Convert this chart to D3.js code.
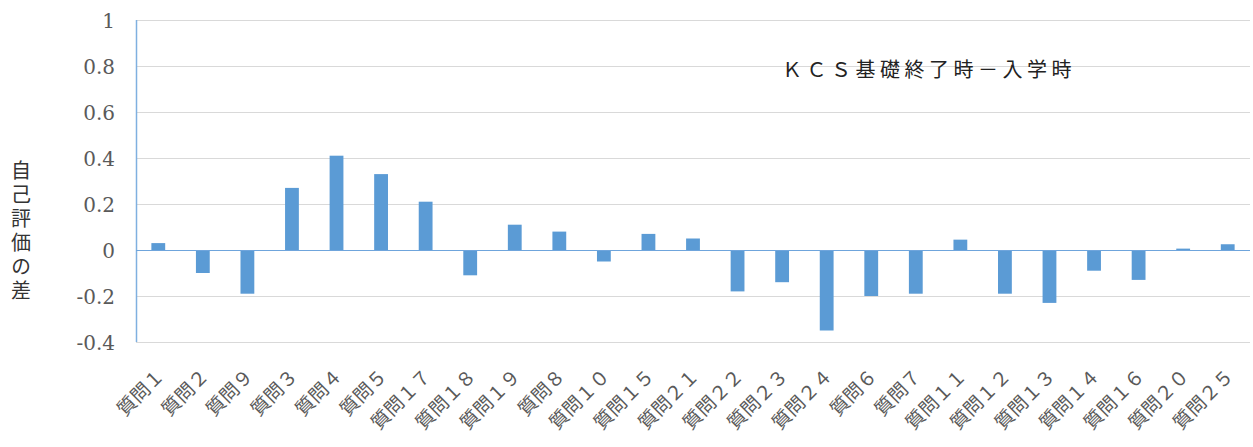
<!DOCTYPE html>
<html lang="ja">
<head>
<meta charset="utf-8">
<script src="https://cdn.jsdelivr.net/npm/d3@7"></script>
<style>
  html, body { margin: 0; padding: 0; background: #fff; }
  svg { display: block; }
</style>
</head>
<body>
<svg id="chart" width="1253" height="447"></svg>
<script>
// Questions, in display order
const categories = [
  "質問１", "質問２", "質問９", "質問３", "質問４", "質問５", "質問１７", "質問１８",
  "質問１９", "質問８", "質問１０", "質問１５", "質問２１", "質問２２", "質問２３",
  "質問２４", "質問６", "質問７", "質問１１", "質問１２", "質問１３", "質問１４",
  "質問１６", "質問２０", "質問２５"
];

// Difference in self-assessment (end of KCS basics minus enrollment)
const values = [
  0.03, -0.10, -0.19, 0.27, 0.41, 0.33, 0.21, -0.11,
  0.11, 0.08, -0.05, 0.07, 0.05, -0.18, -0.14,
  -0.35, -0.20, -0.19, 0.045, -0.19, -0.23, -0.09,
  -0.13, 0.006, 0.025
];

const yTicks = [-0.4, -0.2, 0, 0.2, 0.4, 0.6, 0.8, 1];
const yTickLabels = ["-0.4", "-0.2", "0", "0.2", "0.4", "0.6", "0.8", "1"];
const chartTitle = "ＫＣＳ基礎終了時－入学時";
const yAxisTitle = "自己評価の差";

const svg = d3.select("#chart");
const plot = { left: 136, right: 1250, top: 20, bottom: 342 };

const x = d3.scaleBand()
  .domain(categories)
  .range([plot.left, plot.right])
  .paddingInner(0.69)
  .paddingOuter(0.345);

const y = d3.scaleLinear()
  .domain([-0.4, 1])
  .range([plot.bottom, plot.top]);

// Horizontal gridlines
svg.append("g")
  .selectAll("line")
  .data(yTicks)
  .join("line")
  .attr("x1", plot.left)
  .attr("x2", plot.right)
  .attr("y1", d => y(d) + 0.5)
  .attr("y2", d => y(d) + 0.5)
  .attr("stroke", "#d9d9d9")
  .attr("stroke-width", 1);

// Y tick labels
const yAxis = d3.axisLeft(y)
  .tickValues(yTicks)
  .tickSize(0)
  .tickPadding(21)
  .tickFormat((d, i) => yTickLabels[i]);

const yg = svg.append("g")
  .attr("transform", `translate(${plot.left},0)`)
  .call(yAxis);
yg.select(".domain").remove();
yg.selectAll("text")
  .attr("font-family", "'DejaVu Serif', 'Liberation Serif', serif")
  .attr("font-size", 20)
  .attr("fill", "#5a5a5a")
  .attr("dy", "0.36em");

// Bars
svg.append("g")
  .selectAll("rect")
  .data(values)
  .join("rect")
  .attr("x", (d, i) => x(categories[i]))
  .attr("width", x.bandwidth())
  .attr("y", d => y(Math.max(0, d)))
  .attr("height", d => Math.abs(y(d) - y(0)))
  .attr("fill", "#5b9bd5");

// Vertical axis line and zero baseline
svg.append("line")
  .attr("x1", plot.left + 0.5).attr("x2", plot.left + 0.5)
  .attr("y1", plot.top).attr("y2", plot.bottom)
  .attr("stroke", "#7fb0e0").attr("stroke-width", 1.5);

svg.append("line")
  .attr("x1", plot.left).attr("x2", plot.right)
  .attr("y1", y(0) + 0.5).attr("y2", y(0) + 0.5)
  .attr("stroke", "#6fa5dc").attr("stroke-width", 1.2);

// Category labels, slanted
svg.append("g")
  .selectAll("text")
  .data(categories)
  .join("text")
  .attr("transform", d => `translate(${x(d) + x.bandwidth() / 2 + 7},${377}) rotate(-45)`)
  .attr("text-anchor", "end")
  .attr("font-family", "'Noto Sans CJK JP', sans-serif")
  .attr("font-size", 19)
  .attr("fill", "#595959")
  .text(d => d);

// Series caption inside the plot
svg.append("text")
  .attr("x", 782)
  .attr("y", 77)
  .attr("font-family", "'Noto Sans CJK JP', sans-serif")
  .attr("font-size", 20)
  .attr("letter-spacing", 4.5)
  .attr("fill", "#222")
  .text(chartTitle);

// Vertical axis title, stacked top to bottom
svg.append("text")
  .attr("x", 21)
  .attr("y", 232)
  .attr("font-family", "'Noto Sans CJK JP', sans-serif")
  .attr("font-size", 20)
  .attr("letter-spacing", 4)
  .attr("fill", "#333")
  .attr("text-anchor", "middle")
  .style("writing-mode", "vertical-rl")
  .text(yAxisTitle);
</script>
</body>
</html>
